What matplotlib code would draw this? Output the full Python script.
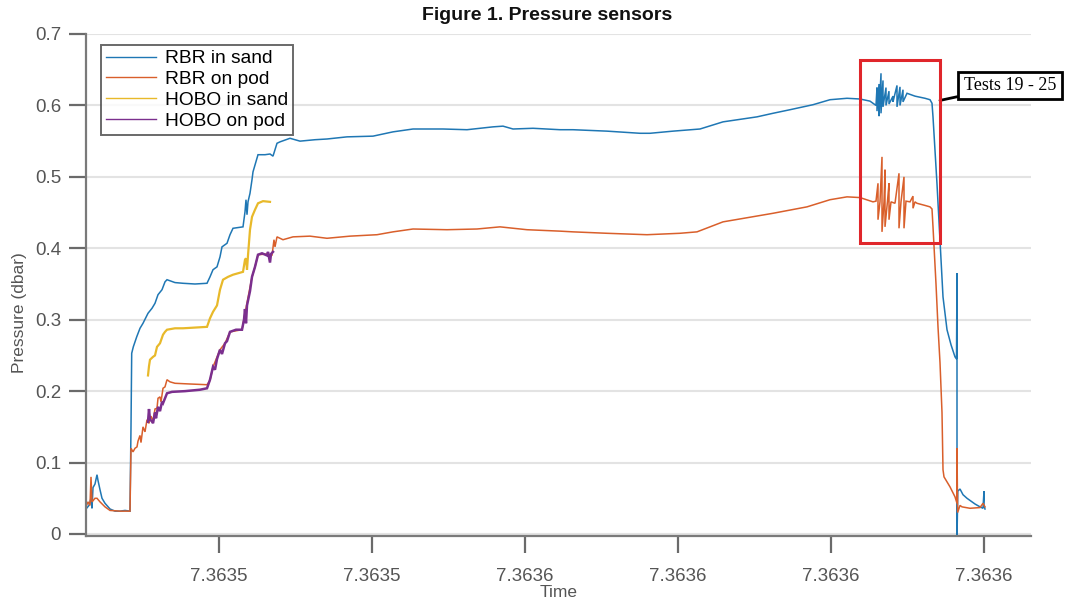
import matplotlib
matplotlib.use("Agg")
import matplotlib.pyplot as plt
from matplotlib.patches import Rectangle

# ---------------- data (elapsed time, arbitrary units; pressure in dbar) ----------------
rbr_sand_t = [0, 3, 5, 6, 7, 9, 11, 12, 14, 16,
              19, 24, 29, 34, 39, 44, 45, 45.7, 47.3, 50.7,
              54, 57, 62, 66, 69, 72, 76, 79, 81, 89,
              97, 109, 121, 124, 127, 131, 134, 136, 141, 144,
              147, 157, 159, 160, 161, 162, 164, 166, 167, 172,
              179, 184, 187, 189, 191, 194, 204, 214, 229, 241,
              261, 287, 307, 327, 357, 381, 407, 417, 427, 447,
              474, 487, 521, 554, 564, 587, 614, 637, 671, 687,
              704, 727, 744, 761, 774, 784, 787, 790, 791, 791,
              793, 793, 795, 795, 797, 797, 800, 800, 803, 803,
              807, 807, 811, 811, 814, 814, 817, 817, 821, 829,
              839, 844, 846, 847, 851, 854, 857, 861, 865, 869,
              870.5, 871, 871, 871.8, 874, 877, 881, 889, 894, 897,
              898, 898, 899]
rbr_sand_p = [.035, .040, .050, .036, .065, .070, .083, .075, .062, .050,
              .043, .035, .032, .032, .033, .032, .150, .253, .262, .276,
              .288, .295, .309, .316, .323, .335, .342, .353, .356, .352,
              .351, .350, .351, .360, .370, .374, .388, .402, .407, .419,
              .428, .430, .451, .468, .447, .465, .477, .496, .507, .531,
              .531, .532, .529, .538, .547, .549, .554, .550, .552, .553,
              .556, .557, .563, .567, .567, .566, .570, .571, .567, .568,
              .566, .566, .564, .561, .561, .564, .567, .577, .584, .589,
              .594, .601, .608, .610, .609, .606, .603, .600, .625, .592,
              .630, .585, .645, .589, .635, .598, .625, .600, .620, .602,
              .613, .605, .628, .598, .626, .600, .622, .605, .617, .613,
              .610, .608, .603, .584, .490, .410, .332, .286, .265, .248,
              .245, .365, -.005, .060, .063, .055, .050, .042, .038, .036,
              .060, .040, .035]

rbr_pod_t = [0, 2, 4, 5, 6, 9, 11, 14, 19, 24,
             34, 44, 45, 47, 49, 51, 52, 54, 55, 57,
             59, 61, 63, 65, 67, 69, 71, 72, 74, 75,
             77, 79, 81, 84, 89, 104, 121, 124, 127, 134,
             139, 144, 156, 159, 166, 169, 172, 181, 186, 188,
             189, 191, 197, 207, 224, 241, 264, 291, 307, 327,
             361, 391, 414, 441, 474, 487, 521, 561, 594, 611,
             637, 687, 721, 744, 761, 774, 787, 790, 792, 792,
             794, 796, 796, 798, 799, 799, 801.5, 803, 803, 805,
             809, 813, 813, 815, 818, 818, 820, 824, 827, 827,
             829, 831, 839, 844, 846, 847, 850, 852, 854, 856,
             857, 858, 864, 869, 871, 871, 871.6, 874, 876, 884,
             894, 897, 899]
rbr_pod_p = [.038, .045, .040, .080, .045, .050, .050, .045, .038, .033,
             .032, .032, .120, .115, .120, .122, .130, .138, .128, .150,
             .143, .160, .155, .165, .158, .175, .176, .190, .192, .185,
             .204, .206, .216, .213, .211, .210, .209, .215, .234, .258,
             .267, .283, .286, .309, .360, .374, .391, .392, .390, .412,
             .402, .416, .412, .416, .417, .414, .417, .419, .423, .427,
             .426, .427, .430, .426, .424, .423, .421, .419, .421, .423,
             .437, .449, .458, .468, .472, .471, .465, .466, .491, .440,
             .465, .528, .423, .465, .510, .430, .466, .491, .440, .465,
             .463, .505, .428, .465, .500, .428, .466, .465, .473, .456,
             .465, .463, .460, .458, .455, .430, .350, .290, .240, .170,
             .090, .080, .066, .052, .043, .120, .030, .040, .038, .036,
             .037, .043, .038]

hobo_sand_t = [62, 63, 64, 67, 69, 71, 74, 77, 79, 81,
               89, 97, 109, 121, 124, 127, 131, 134, 137, 142,
               147, 157, 159, 160, 161, 162, 164, 166, 169, 172,
               177, 184]
hobo_sand_p = [.222, .235, .244, .248, .250, .262, .267, .279, .283, .286,
               .288, .288, .289, .290, .302, .311, .320, .342, .356, .360,
               .363, .367, .384, .386, .370, .390, .426, .444, .454, .463,
               .466, .465]

hobo_pod_t = [62, 63, 64, 66, 67, 69, 70, 72, 74, 76,
              77, 79, 81, 86, 99, 114, 121, 124, 127, 129,
              131, 134, 136, 139, 141, 144, 150, 156, 158, 159,
              160, 161, 164, 166, 169, 172, 176, 181, 182, 184,
              185, 187]
hobo_pod_p = [.157, .175, .160, .158, .155, .170, .162, .178, .172, .185,
              .183, .190, .197, .199, .200, .202, .204, .216, .234, .230,
              .245, .258, .252, .267, .270, .283, .286, .286, .300, .315,
              .295, .320, .340, .360, .374, .391, .393, .390, .395, .380,
              .392, .395]

series_labels = ["RBR in sand", "RBR on pod", "HOBO in sand", "HOBO on pod"]
series_colors = ["#1f77b4", "#d95f2b", "#e8b92a", "#7b2f8e"]

tick_pos = [133, 286, 439, 592, 745, 898]
tick_labels = ["7.3635", "7.3635", "7.3636", "7.3636", "7.3636", "7.3636"]

box_t = (774, 854)          # highlighted test window
box_p = (0.4074, 0.6636)
note_text = "Tests 19 - 25"

# ---------------- figure ----------------
plt.rcParams['font.family'] = ['Liberation Sans', 'DejaVu Sans']
fig = plt.figure(figsize=(10.68, 6.02), dpi=100)
ax = fig.add_axes([86/1068, 1-536/602, (1031-86)/1068, (536-34)/602])

data = [(rbr_sand_t, rbr_sand_p), (rbr_pod_t, rbr_pod_p),
        (hobo_sand_t, hobo_sand_p), (hobo_pod_t, hobo_pod_p)]
lws = [1.1, 1.1, 1.6, 1.8]
for (t, p), lab, c, lw in zip(data, series_labels, series_colors, lws):
    ax.plot(t, p, color=c, lw=lw, label=lab, solid_joinstyle='miter')

ax.set_xlim(0, 945)
ax.set_ylim(-0.0028, 0.7)
ax.set_yticks([0, 0.1, 0.2, 0.3, 0.4, 0.5, 0.6, 0.7])
ax.set_yticklabels(["0", "0.1", "0.2", "0.3", "0.4", "0.5", "0.6", "0.7"])
ax.set_xticks(tick_pos)
ax.set_xticklabels(tick_labels)
ax.yaxis.grid(True, color="#e3e3e3", lw=1.5)
ax.set_axisbelow(True)
for s in ["top", "right"]:
    ax.spines[s].set_visible(False)
for s in ["left", "bottom"]:
    ax.spines[s].set_color("#7a7a7a")
    ax.spines[s].set_linewidth(1.6)
ax.tick_params(direction="out", length=12, width=1.6, color="#6a6a6a",
               labelcolor="#555555", labelsize=13.5)
ax.tick_params(axis="y", pad=6)
ax.tick_params(axis="x", pad=11)

ax.set_xlabel("Time", fontsize=12.5, color="#555555", labelpad=0)
ax.set_ylabel("Pressure (dbar)", fontsize=12.5, color="#555555", labelpad=10)
ax.yaxis.set_label_coords(-0.062, 0.445)

leg = ax.legend(loc="upper left", bbox_to_anchor=(15/945, 1-11/502), borderaxespad=0,
                fontsize=13.8, frameon=True, fancybox=False, handlelength=2.6,
                labelspacing=0.18, borderpad=0.25, handletextpad=0.5)
leg.get_frame().set_edgecolor("#444444")
leg.get_frame().set_linewidth(1.4)
for ln in leg.get_lines():
    ln.set_linewidth(1.0)

rect = Rectangle((box_t[0], box_p[0]), box_t[1]-box_t[0], box_p[1]-box_p[0],
                 fill=False, edgecolor="#e0262b", lw=2.2, zorder=5)
ax.add_patch(rect)

ax.annotate(note_text, xy=(854, 0.607), xytext=(924, 0.628),
            fontsize=13, family=["Liberation Serif"], ha="center", va="center",
            annotation_clip=False,
            bbox=dict(boxstyle="square,pad=0.3", fc="white", ec="black", lw=2),
            arrowprops=dict(arrowstyle="-", color="black", lw=2, shrinkA=0, shrinkB=0))

fig.text(547/1068, 1-16/602, "Figure 1. Pressure sensors", fontsize=14, fontweight="bold",
         ha="center", va="center", color="#111111")

fig.savefig("out.png", dpi=100)
